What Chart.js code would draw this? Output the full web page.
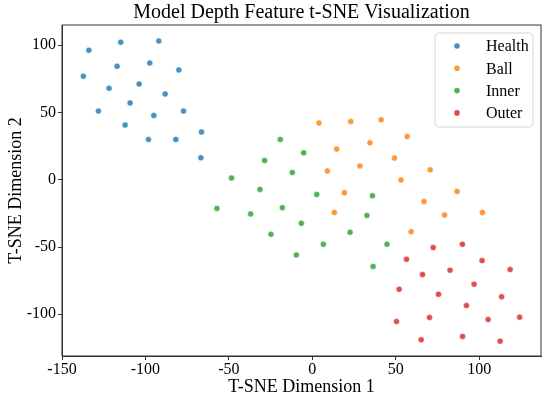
<!DOCTYPE html>
<html>
<head>
<meta charset="utf-8">
<script src="https://cdn.jsdelivr.net/npm/chart.js@4/dist/chart.umd.min.js"></script>
<style>
  html, body { margin: 0; padding: 0; background: #fff; }
  #wrap { width: 550px; height: 400px; }
</style>
</head>
<body>
<div id="wrap"><canvas id="chart"></canvas></div>
<script>
const labels = ["Health", "Ball", "Inner", "Outer"];
const colors = ["#1f77b4", "#ff7f0e", "#2ca02c", "#d62728"];

// t-SNE points, [x, y]
const healthPts = [
  [-137.2, 76.9], [-133.9, 96.2], [-114.8, 102.2], [-92.0, 103.1], [-117.0, 84.3],
  [-97.4, 86.8], [-80.0, 81.6], [-121.8, 68.0], [-103.8, 71.2], [-88.2, 63.8],
  [-128.2, 51.0], [-109.2, 57.1], [-95.0, 47.7], [-77.2, 51.0], [-112.2, 40.6],
  [-98.2, 29.9], [-81.8, 29.9], [-66.4, 35.4], [-66.8, 16.3]
];
const ballPts = [
  [4.0, 42.1], [23.0, 43.2], [41.2, 44.5], [56.8, 32.1], [34.5, 27.4],
  [14.6, 22.8], [49.2, 16.1], [28.5, 10.2], [9.0, 6.5], [70.6, 7.4],
  [53.1, -0.2], [19.2, -9.6], [86.7, -8.7], [66.9, -16.1], [13.2, -24.3],
  [79.2, -26.2], [101.9, -24.3], [59.2, -38.6]
];
const innerPts = [
  [-48.4, 1.3], [-28.6, 14.3], [-31.4, -7.2], [-19.2, 29.9], [-5.2, 20.0],
  [-12.0, 5.4], [2.6, -10.9], [36.0, -11.9], [-57.2, -21.3], [-37.0, -25.4],
  [-18.0, -20.8], [32.7, -26.5], [-6.6, -32.4], [-24.8, -40.6], [22.6, -39.1],
  [6.6, -48.0], [44.7, -48.0], [-9.6, -55.9], [36.4, -64.5]
];
const outerPts = [
  [72.4, -50.4], [89.9, -48.0], [56.4, -59.1], [101.7, -60.1], [66.0, -70.5],
  [82.5, -67.3], [118.5, -66.8], [52.0, -81.4], [96.9, -77.7], [75.6, -85.1],
  [113.4, -87.0], [92.3, -93.5], [70.2, -102.4], [50.4, -105.3], [105.3, -103.9],
  [124.2, -102.2], [65.2, -118.9], [90.0, -116.5], [112.5, -120.0]
];
const allPts = [healthPts, ballPts, innerPts, outerPts];

const xTicks = [-150, -100, -50, 0, 50, 100];
const yTicks = [-100, -50, 0, 50, 100];

const serif = "'Liberation Serif', 'Times New Roman', serif";

function toXY(list) {
  return list.map(p => ({ x: p[0], y: p[1] }));
}

function fade(hex, a) {
  const n = parseInt(hex.slice(1), 16);
  return "rgba(" + (n >> 16) + "," + ((n >> 8) & 255) + "," + (n & 255) + "," + a + ")";
}

/* frame round the plot + legend inside the top right */
const framePlugin = {
  id: "frame",
  afterDraw(c) {
    const ctx = c.ctx;
    const a = c.chartArea;
    ctx.save();
    ctx.strokeStyle = "#333";
    ctx.lineWidth = 1;
    ctx.strokeRect(a.left, a.top, a.right - a.left, a.bottom - a.top);

    // legend box
    const bx = a.right - 106, by = a.top + 8, bw = 98, bh = 94;
    ctx.beginPath();
    ctx.roundRect(bx, by, bw, bh, 3);
    ctx.fillStyle = "rgba(255,255,255,0.8)";
    ctx.fill();
    ctx.strokeStyle = "#d6d6d6";
    ctx.stroke();

    ctx.font = "16px " + serif;
    ctx.textBaseline = "middle";
    c.data.datasets.forEach((ds, i) => {
      const y = by + 13 + i * 22.3;
      ctx.beginPath();
      ctx.arc(bx + 22, y, 2.8, 0, Math.PI * 2);
      ctx.fillStyle = ds.backgroundColor;
      ctx.fill();
      ctx.fillStyle = "#000";
      ctx.fillText(ds.label, bx + 51, y + 1);
    });
    ctx.restore();
  }
};

new Chart(document.getElementById("chart"), {
  type: "scatter",
  data: {
    datasets: labels.map((l, i) => ({
      label: l,
      data: toXY(allPts[i]),
      backgroundColor: fade(colors[i], 0.82),
      borderColor: "rgba(255,255,255,0.9)",
      borderWidth: 0.5,
      pointRadius: 3,
      pointHoverRadius: 3
    }))
  },
  options: {
    responsive: true,
    maintainAspectRatio: false,
    animation: false,
    layout: { padding: { left: 0, right: 9, top: 1, bottom: 0 } },
    plugins: {
      legend: { display: false },
      tooltip: { enabled: false },
      title: {
        display: true,
        text: "Model Depth Feature t-SNE Visualization",
        fullSize: false,
        color: "#000",
        font: { family: serif, size: 20, weight: "normal" },
        padding: { top: 0, bottom: 0 }
      }
    },
    scales: {
      x: {
        type: "linear",
        min: -150,
        max: 137,
        afterFit(s) { s.height = 44; },
        afterBuildTicks(s) { s.ticks = xTicks.map(v => ({ value: v })); },
        grid: { drawOnChartArea: false, drawTicks: true, tickLength: 4, color: "#333" },
        border: { color: "#333", width: 1 },
        ticks: {
          color: "#000",
          padding: 0,
          maxRotation: 0,
          font: { family: serif, size: 16 }
        },
        title: {
          display: true,
          text: "T-SNE Dimension 1",
          color: "#000",
          font: { family: serif, size: 18 },
          padding: { top: 0, bottom: 2 }
        }
      },
      y: {
        type: "linear",
        min: -131,
        max: 115,
        afterFit(s) { s.width = 62; },
        afterBuildTicks(s) { s.ticks = yTicks.map(v => ({ value: v })); },
        grid: { drawOnChartArea: false, drawTicks: true, tickLength: 4, color: "#333" },
        border: { color: "#333", width: 1 },
        ticks: {
          color: "#000",
          padding: 2,
          font: { family: serif, size: 16 }
        },
        title: {
          display: true,
          text: "T-SNE Dimension 2",
          color: "#000",
          font: { family: serif, size: 18 },
          padding: { top: 5, bottom: 0 }
        }
      }
    }
  },
  plugins: [framePlugin]
});
</script>
</body>
</html>
